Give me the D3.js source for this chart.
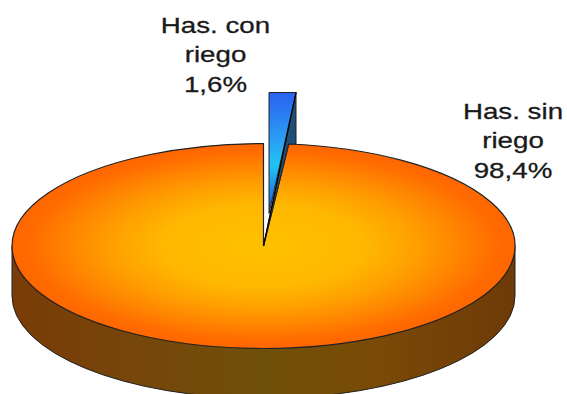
<!DOCTYPE html>
<html>
<head>
  <script src="https://d3js.org/d3.v7.min.js"></script>
  <style>
    html, body { margin: 0; padding: 0; background: #fff; overflow: hidden; }
    svg { display: block; }
    text { font-family: "Liberation Sans", Arial, sans-serif; font-size: 22px; fill: #1a1a1a; stroke: #1a1a1a; stroke-width: 0.3; text-anchor: middle; }
  </style>
</head>
<body>
  <div id="chart_div"></div>

  <script>
    // Chart data
    var categories = ["Has. con riego", "Has. sin riego"];
    var shares = [1.6, 98.4];
    var labelLines = [["Has. con", "riego"], ["Has. sin", "riego"]];

    var width = 567, height = 394;

    // Ellipse of the tilted pie
    var cx = 263.5, cy = 246, rx = 251.5, ry = 102.5, depth = 50;

    var svg = d3.select("#chart_div").append("svg")
      .attr("width", width)
      .attr("height", height);

    var defs = svg.append("defs");

    var topGrad = defs.append("radialGradient").attr("id", "topGrad");
    [[0, "#ffc000"], [0.4, "#ffb800"], [0.6, "#ffa000"], [0.78, "#ff8400"], [0.92, "#ff6c00"], [1, "#ff6600"]].forEach(function(s) {
      topGrad.append("stop").attr("offset", s[0]).attr("stop-color", s[1]);
    });

    var sideGrad = defs.append("linearGradient").attr("id", "sideGrad");
    [[0, "#7a3c08"], [0.3, "#75480a"], [0.5, "#6f5008"], [0.72, "#7a4a06"], [1, "#6e3a08"]].forEach(function(s) {
      sideGrad.append("stop").attr("offset", s[0]).attr("stop-color", s[1]);
    });

    var blueGrad = defs.append("linearGradient").attr("id", "blueGrad")
      .attr("x1", 0).attr("y1", 0).attr("x2", 0).attr("y2", 1);
    [[0, "#2a62f0"], [0.4, "#2aa0f4"], [0.6, "#22c4f4"], [1, "#1f50d8"]].forEach(function(s) {
      blueGrad.append("stop").attr("offset", s[0]).attr("stop-color", s[1]);
    });

    // Pie layout, first slice starts at 12 o'clock
    var pie = d3.pie().sort(null);
    var slices = pie(shares);

    // Point on the rim for a pie angle
    function rim(angle, ox, oy, a, b) {
      return [ox + a * Math.sin(angle), oy - b * Math.cos(angle)];
    }

    var unitArc = d3.arc().innerRadius(0).outerRadius(1);
    var line = d3.line();

    var outline = "#222";

    // Side wall: bottom half of the ellipse moved down by depth
    svg.append("path")
      .attr("d", "M" + (cx - rx) + "," + cy + "L" + (cx - rx) + "," + (cy + depth) +
        "A" + rx + "," + ry + " 0 0 0 " + (cx + rx) + "," + (cy + depth) +
        "L" + (cx + rx) + "," + cy + "Z")
      .attr("fill", "url(#sideGrad)")
      .attr("stroke", outline)
      .attr("stroke-width", 1);

    // Big slice, top face
    svg.append("path")
      .attr("d", unitArc(slices[1]))
      .attr("transform", "translate(" + cx + "," + cy + ") scale(" + rx + "," + ry + ")")
      .attr("fill", "url(#topGrad)")
      .attr("stroke", outline)
      .attr("stroke-width", 1.2)
      .attr("vector-effect", "non-scaling-stroke");

    // Small slice, pulled out of the pie
    var offX = 5.5, offY = -51;
    var sliceRx = rx * 1.07, sliceRy = ry * 1.18;
    var a0 = slices[0].startAngle, a1 = slices[0].endAngle;
    var apex = [cx, cy];
    var mainRight = rim(a1, cx, cy, rx, ry);
    var faceLeft = rim(a0, cx + offX, cy + offY + (sliceRy - ry), sliceRx, sliceRy);
    var faceRight = [faceLeft[0] + sliceRx * Math.sin(a1), faceLeft[1]];
    var faceTip = [faceLeft[0], faceLeft[1] + sliceRy];

    svg.append("path")
      .attr("d", line([faceRight, [faceRight[0], mainRight[1]], mainRight, apex]) + "Z")
      .attr("fill", "#1f4f78")
      .attr("stroke", outline)
      .attr("stroke-width", 1);

    svg.append("path")
      .attr("d", line([faceLeft, faceRight, faceTip]) + "Z")
      .attr("fill", "url(#blueGrad)")
      .attr("stroke", outline)
      .attr("stroke-width", 1);

    svg.append("path")
      .attr("d", line([faceRight, apex]))
      .attr("fill", "none")
      .attr("stroke", "#000")
      .attr("stroke-width", 1.2);

    // Labels, wide letters as in the picture
    var labelPos = [[215.5, 33], [513, 119]];
    var lineGap = 29.5, stretch = 1.26;

    slices.forEach(function(d, i) {
      var g = svg.append("g")
        .attr("transform", "translate(" + labelPos[i][0] + "," + labelPos[i][1] + ") scale(" + stretch + ",1)")
        .attr("aria-label", categories[i]);
      var rows = labelLines[i].concat([String(shares[i]).replace(".", ",") + "%"]);
      rows.forEach(function(t, j) {
        g.append("text").attr("y", j * lineGap).text(t);
      });
    });
  </script>
</body>
</html>
